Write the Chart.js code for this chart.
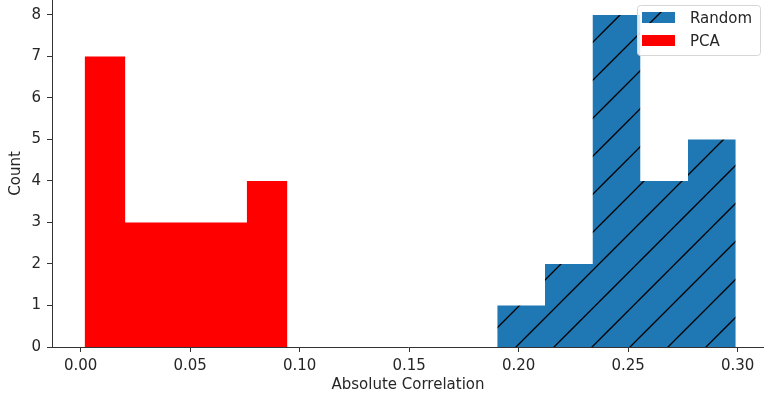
<!DOCTYPE html>
<html>
<head>
<meta charset="utf-8">
<script src="https://cdn.jsdelivr.net/npm/chart.js@4"></script>
<style>
  html, body { margin: 0; padding: 0; background: #fff; }
  #wrap { width: 764px; height: 398px; }
</style>
</head>
<body>
<div id="wrap"><canvas id="hist"></canvas></div>
<script>
// Histogram bins
const randomEdges = [0.1902, 0.2120, 0.2338, 0.2555, 0.2773, 0.2991];
const randomCounts = [1, 2, 8, 4, 5];
const pcaEdges = [0.0018, 0.0203, 0.0388, 0.0573, 0.0759, 0.0944];
const pcaCounts = [7, 3, 3, 3, 4];

// Tick labels
const xTicks = [0.00, 0.05, 0.10, 0.15, 0.20, 0.25, 0.30];
const xTickLabels = ['0.00', '0.05', '0.10', '0.15', '0.20', '0.25', '0.30'];
const yTicks = [0, 1, 2, 3, 4, 5, 6, 7, 8];
const yTickLabels = ['0', '1', '2', '3', '4', '5', '6', '7', '8'];

const FONT = "'DejaVu Sans', sans-serif";
const TEXT = '#262626';
const SPINE = '#333333';

// turn edges + counts into step points
function stepPoints(edges, counts) {
    const pts = counts.map((c, i) => ({ x: edges[i], y: c }));
    pts.push({ x: edges[edges.length - 1], y: counts[counts.length - 1] });
    return pts;
}

// '/' hatch on blue, anchored to the canvas origin
function makeHatch(ctx) {
    const s = 38;
    const c = document.createElement('canvas');
    c.width = s; c.height = s;
    const p = c.getContext('2d');
    p.fillStyle = '#1f77b4';
    p.fillRect(0, 0, s, s);
    p.strokeStyle = '#000';
    p.lineWidth = 1.3;
    p.beginPath();
    p.moveTo(-2, 29); p.lineTo(29, -2);
    p.moveTo(25, 40); p.lineTo(40, 25);
    p.stroke();
    return ctx.createPattern(c, 'repeat');
}

const canvas = document.getElementById('hist');
const ctx = canvas.getContext('2d');
const hatch = makeHatch(ctx);

// matplotlib-like legend in the upper right corner
const boxLegend = {
    id: 'boxLegend',
    afterDatasetsDraw(chart) {
        const c = chart.ctx;
        const x = 637, y = 5, w = 123, h = 50;
        c.save();
        c.beginPath();
        c.roundRect(x + 0.5, y + 0.5, w, h, 3);
        c.fillStyle = 'rgba(255,255,255,0.85)';
        c.fill();
        c.strokeStyle = '#d6d6d6';
        c.lineWidth = 1;
        c.stroke();
        c.font = '15px ' + FONT;
        c.textBaseline = 'middle';
        chart.data.datasets.forEach((ds, i) => {
            const ry = 12 + i * 23;
            c.fillStyle = ds.backgroundColor;
            c.fillRect(642, ry, 33, 11);
            c.fillStyle = TEXT;
            c.fillText(ds.label, 690, ry + 7);
        });
        c.restore();
    }
};

new Chart(ctx, {
    type: 'line',
    data: {
        datasets: [
            {
                label: 'Random',
                data: stepPoints(randomEdges, randomCounts),
                stepped: 'before',
                fill: 'origin',
                backgroundColor: hatch,
                borderWidth: 0,
                pointRadius: 0
            },
            {
                label: 'PCA',
                data: stepPoints(pcaEdges, pcaCounts),
                stepped: 'before',
                fill: 'origin',
                backgroundColor: '#ff0000',
                borderWidth: 0,
                pointRadius: 0
            }
        ]
    },
    options: {
        responsive: true,
        maintainAspectRatio: false,
        animation: false,
        layout: { padding: 0 },
        plugins: {
            legend: { display: false },
            tooltip: { enabled: false }
        },
        scales: {
            x: {
                type: 'linear',
                min: -0.0131,
                max: 0.3120,
                afterBuildTicks: (scale) => { scale.ticks = xTicks.map(v => ({ value: v })); },
                afterFit: (scale) => { scale.height = 51; scale.paddingLeft = 0; scale.paddingRight = 0; },
                ticks: {
                    callback: (v) => xTickLabels[xTicks.indexOf(v)],
                    font: { family: FONT, size: 15 },
                    color: TEXT,
                    padding: 5,
                    maxRotation: 0
                },
                grid: { drawOnChartArea: false, drawTicks: true, tickLength: 5, color: SPINE },
                border: { display: true, color: SPINE, width: 1 },
                title: {
                    display: true,
                    text: 'Absolute Correlation',
                    font: { family: FONT, size: 15 },
                    color: TEXT,
                    padding: { top: 0, bottom: 4 }
                }
            },
            y: {
                type: 'linear',
                min: 0,
                max: 8.36,
                afterBuildTicks: (scale) => { scale.ticks = yTicks.map(v => ({ value: v })); },
                afterFit: (scale) => { scale.width = 52; scale.paddingTop = 0; scale.paddingBottom = 0; },
                ticks: {
                    callback: (v) => yTickLabels[yTicks.indexOf(v)],
                    font: { family: FONT, size: 15 },
                    color: TEXT,
                    padding: 6
                },
                grid: { drawOnChartArea: false, drawTicks: true, tickLength: 5, color: SPINE },
                border: { display: true, color: SPINE, width: 1 },
                title: {
                    display: true,
                    text: 'Count',
                    font: { family: FONT, size: 15 },
                    color: TEXT,
                    padding: { top: 7, bottom: 0 }
                }
            }
        }
    },
    plugins: [boxLegend]
});
</script>
</body>
</html>
